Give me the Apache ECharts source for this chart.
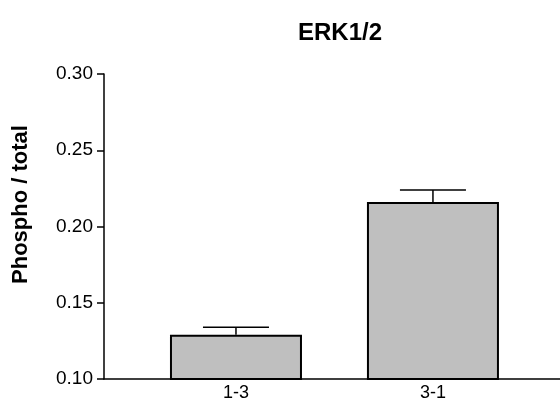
<!DOCTYPE html>
<html>
<head>
<meta charset="utf-8">
<title>ERK1/2</title>
<script src="https://cdn.jsdelivr.net/npm/echarts@6/dist/echarts.min.js"></script>
<style>
  html, body { margin: 0; padding: 0; background: #fff; }
  #chart { width: 560px; height: 420px; }
</style>
</head>
<body>
<div id="chart"></div>
<script>
// Groups along the x axis and their positions on the value scale
const groups = ['1-3', '3-1'];
const groupPos = [1, 2];
// Mean phospho / total ratio per group and its error (upper whisker)
const means = [0.129, 0.216];
const errors = [0.005, 0.008];
// Y axis ticks
const yTicks = [0.10, 0.15, 0.20, 0.25, 0.30];

const FONT = '"Liberation Sans", Arial, sans-serif';
const BAR_WIDTH = 132;

const barData = groupPos.map((x, i) => [x, means[i]]);
const errData = groupPos.map((x, i) => [x, means[i], means[i] + errors[i]]);

const chart = echarts.init(document.getElementById('chart'), null, { renderer: 'canvas' });

chart.setOption({
  animation: false,
  backgroundColor: '#ffffff',
  title: {
    text: 'ERK1/2',
    left: 335,
    top: 16,
    textAlign: 'center',
    textStyle: { fontFamily: FONT, fontWeight: 'bold', fontSize: 24, color: '#000' }
  },
  grid: {
    left: 104, right: 0, top: 74, bottom: 41,
    containLabel: false,
    outerBoundsMode: 'none'
  },
  xAxis: {
    type: 'value',
    min: 0.33,
    max: 2.645,
    splitLine: { show: false },
    axisLine: { show: true, onZero: false, lineStyle: { color: '#000', width: 1.5 } },
    axisTick: { show: false },
    axisLabel: {
      customValues: groupPos,
      margin: 5,
      fontFamily: FONT,
      fontSize: 18,
      color: '#000',
      formatter: function (v) {
        const r = Math.round(v);
        if (Math.abs(v - r) > 1e-6) return '';
        const i = groupPos.indexOf(r);
        return i >= 0 ? groups[i] : '';
      }
    }
  },
  yAxis: {
    type: 'value',
    min: yTicks[0],
    max: yTicks[yTicks.length - 1],
    interval: 0.05,
    name: 'Phospho / total',
    nameLocation: 'middle',
    nameGap: 72,
    nameMoveOverlap: false,
    nameTextStyle: {
      fontFamily: FONT, fontWeight: 'bold', fontSize: 22, color: '#000',
      padding: [0, 0, 0, 44]
    },
    splitLine: { show: false },
    axisLine: { show: true, lineStyle: { color: '#000', width: 1.5 } },
    axisTick: { show: true, length: 7, lineStyle: { color: '#000', width: 1.5 } },
    axisLabel: {
      margin: 11,
      fontFamily: FONT,
      fontSize: 19,
      color: '#000',
      formatter: v => v.toFixed(2)
    }
  },
  series: [
    {
      type: 'bar',
      data: barData,
      barWidth: BAR_WIDTH,
      itemStyle: { color: '#bfbfbf', borderColor: '#000', borderWidth: 2 },
      z: 2
    },
    {
      type: 'custom',
      data: errData,
      z: 3,
      renderItem: function (params, api) {
        const x = api.value(0);
        const base = api.coord([x, api.value(1)]);
        const top = api.coord([x, api.value(2)]);
        const half = BAR_WIDTH / 4;
        const style = { stroke: '#000', lineWidth: 1.5, fill: null };
        return {
          type: 'group',
          children: [
            { type: 'line', shape: { x1: base[0], y1: base[1], x2: top[0], y2: top[1] }, style: style },
            { type: 'line', shape: { x1: top[0] - half, y1: top[1], x2: top[0] + half, y2: top[1] }, style: style }
          ]
        };
      }
    }
  ]
});
</script>
</body>
</html>
